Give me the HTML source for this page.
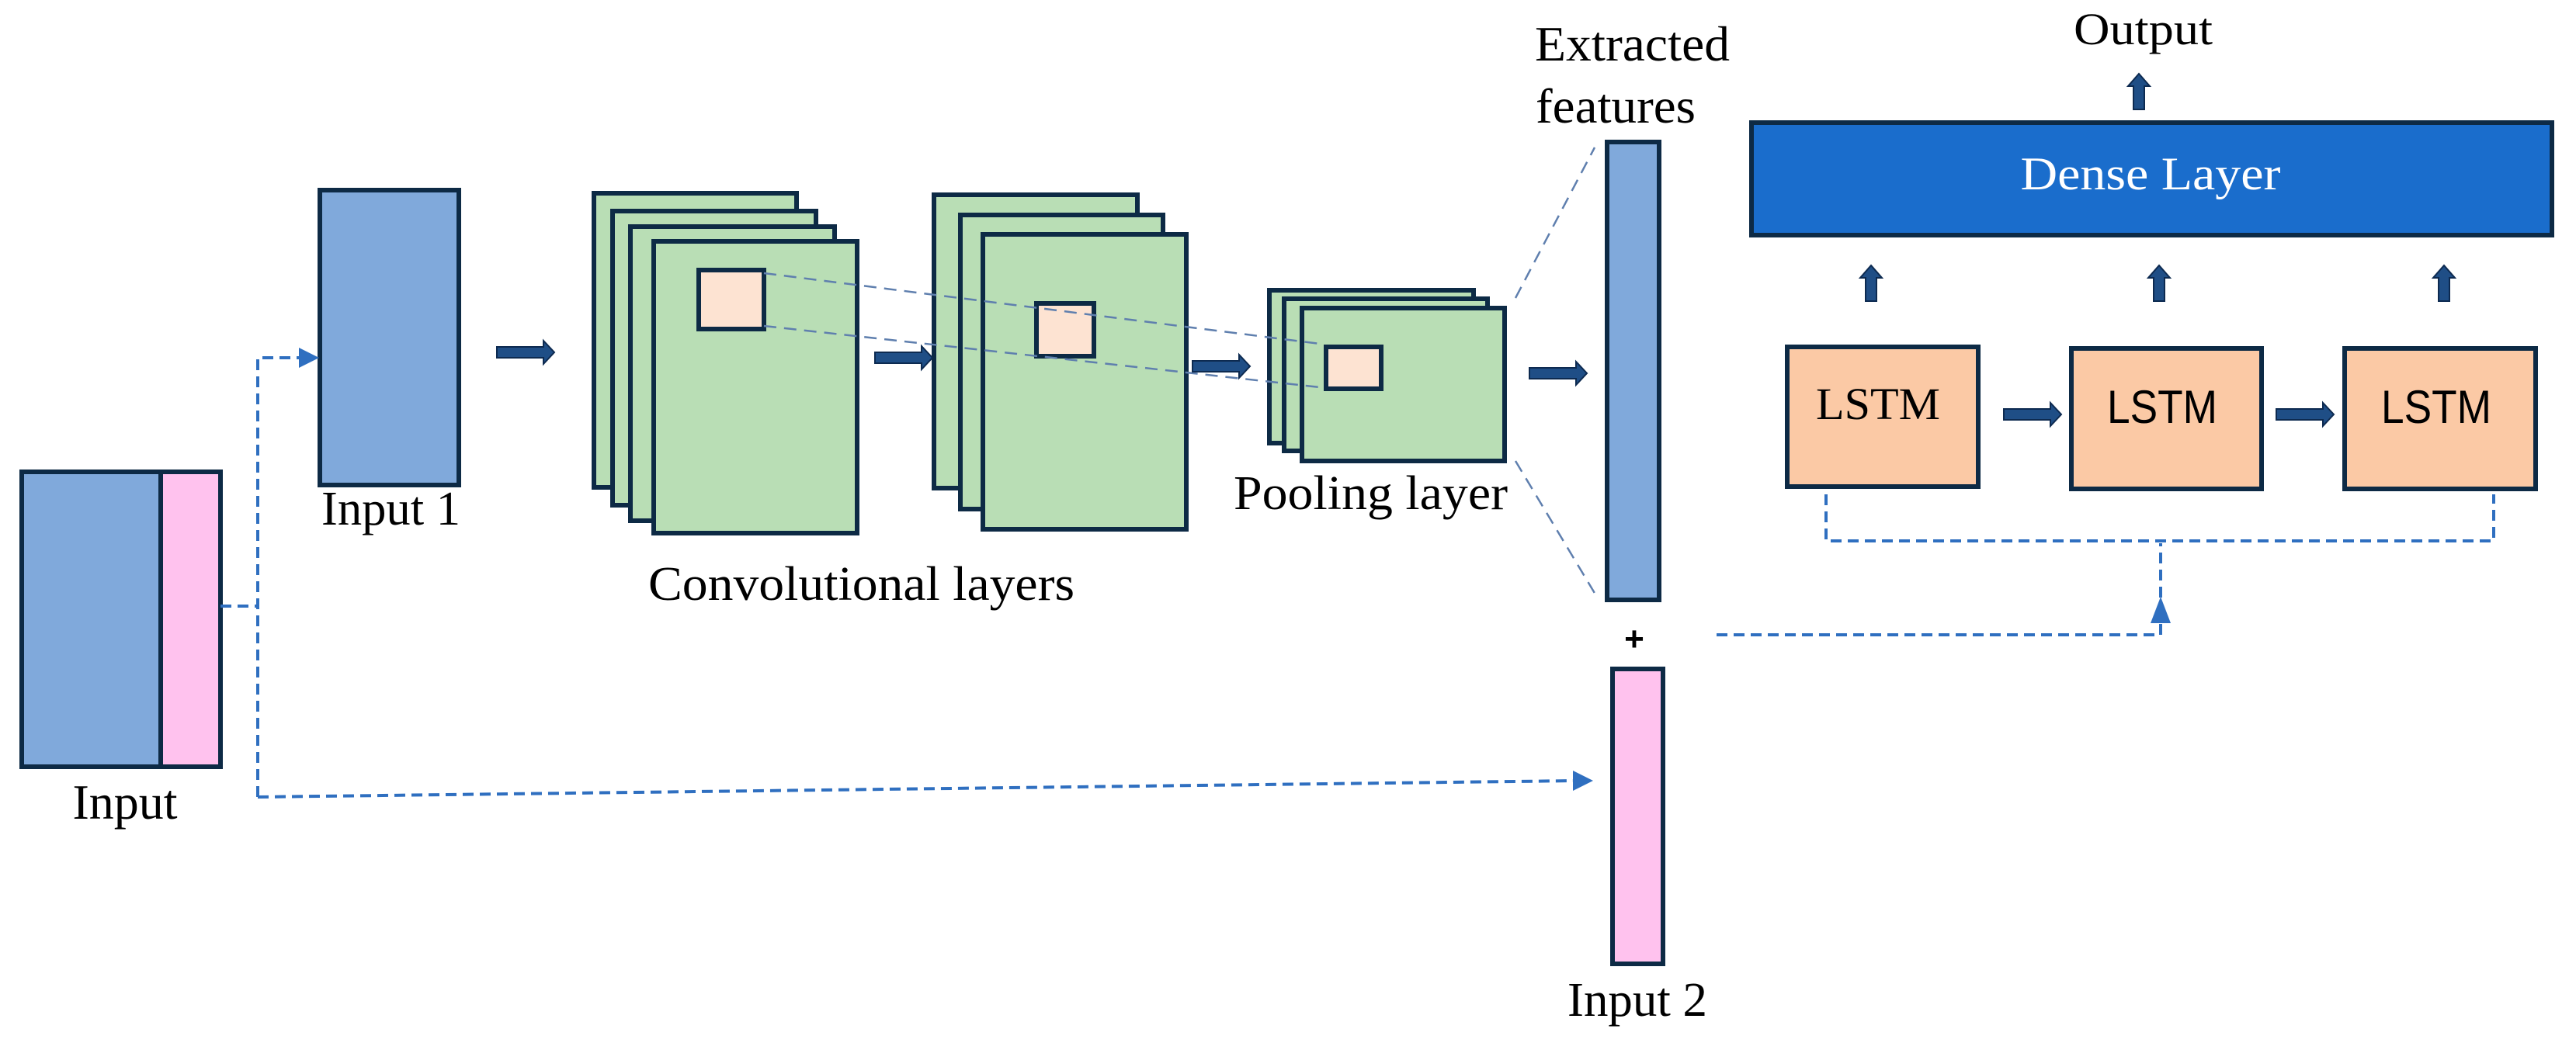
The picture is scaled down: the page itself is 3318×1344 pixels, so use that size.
<!DOCTYPE html>
<html><head><meta charset="utf-8"><style>
html,body{margin:0;padding:0;background:#fff;}
svg{display:block;}
.t{font-family:"Liberation Serif",serif;fill:#000;}
</style></head><body>
<svg width="3318" height="1344" viewBox="0 0 3318 1344" xmlns="http://www.w3.org/2000/svg">
<defs>
<g id="rarr"><path d="M0,-7 L60,-7 L60,-15 L74,0 L60,15 L60,7 L0,7 z" fill="#1f4e86" stroke="#0d2a50" stroke-width="2"/></g>
<g id="uarr"><path d="M-7,46 L-7,16 L-14,16 L0,0 L14,16 L7,16 L7,46 z" fill="#1f4e86" stroke="#0d2a50" stroke-width="2"/></g>
</defs>
<g stroke="#0d2a45" stroke-width="6">
<rect x="28" y="608" width="179" height="380" fill="#80a9db"/>
<rect x="207" y="608" width="77" height="380" fill="#ffc2ee"/>
<rect x="412" y="245" width="179" height="380" fill="#80a9db"/>
<rect x="765" y="249" width="261" height="379" fill="#b9deb5"/>
<rect x="789" y="272" width="262" height="379" fill="#b9deb5"/>
<rect x="812" y="292" width="263" height="379" fill="#b9deb5"/>
<rect x="842" y="311" width="262" height="376" fill="#b9deb5"/>
<rect x="900" y="348" width="84" height="76" fill="#fde3d2"/>
<rect x="1203" y="251" width="262" height="378" fill="#b9deb5"/>
<rect x="1237" y="277" width="261" height="379" fill="#b9deb5"/>
<rect x="1266" y="302" width="262" height="380" fill="#b9deb5"/>
<rect x="1335" y="391" width="74" height="68" fill="#fde3d2"/>
<rect x="1635" y="374" width="263" height="197" fill="#b9deb5"/>
<rect x="1654" y="385" width="262" height="196" fill="#b9deb5"/>
<rect x="1677" y="397" width="261" height="197" fill="#b9deb5"/>
<rect x="1708" y="447" width="71" height="54" fill="#fde3d2"/>
<rect x="2070" y="183" width="67" height="590" fill="#80a9db"/>
<rect x="2077" y="862" width="65" height="380" fill="#ffc2ee"/>
<rect x="2256" y="158" width="1031" height="145" fill="#1a6dcc"/>
<rect x="2302" y="447" width="246" height="180" fill="#fbc9a5"/>
<rect x="2668" y="449" width="245" height="181" fill="#fbc9a5"/>
<rect x="3020" y="449" width="246" height="181" fill="#fbc9a5"/>
</g>
<g stroke="#5f7fae" stroke-width="2.5" stroke-dasharray="16,10" fill="none">
<line x1="984" y1="352" x2="1700" y2="443"/>
<line x1="984" y1="420" x2="1700" y2="499"/>
<line x1="1952" y1="384" x2="2054" y2="190"/>
<line x1="1952" y1="594" x2="2058" y2="771"/>
</g>
<g stroke="#2f6fc0" stroke-width="4" stroke-dasharray="14,8" fill="none">
<polyline points="284,781 332,781"/>
<polyline points="332,1027 332,461 390,461"/>
<polyline points="332,1027 2030,1006"/>
<polyline points="2211,818 2783,818 2783,800"/>
<polyline points="2783,770 2783,700"/>
<polyline points="2352,637 2352,697 3212,697 3212,637"/>
</g>
<path d="M385,448 L411,461 L385,474 z" fill="#2f6fc0"/>
<path d="M2026,993 L2052,1006 L2026,1019 z" fill="#2f6fc0"/>
<path d="M2770,803 L2783,769 L2796,803 z" fill="#2f6fc0"/>
<use href="#rarr" x="640" y="454"/>
<use href="#rarr" x="1127" y="461"/>
<use href="#rarr" x="1536" y="472"/>
<use href="#rarr" x="1970" y="481"/>
<use href="#rarr" x="2581" y="534"/>
<use href="#rarr" x="2932" y="534"/>
<use href="#uarr" x="2755" y="95"/>
<use href="#uarr" x="2410" y="342"/>
<use href="#uarr" x="2781" y="342"/>
<use href="#uarr" x="3148" y="342"/>
<text class="t" x="161" y="1055" font-size="64" text-anchor="middle">Input</text>
<text class="t" x="414" y="676" font-size="62" textLength="179" lengthAdjust="spacingAndGlyphs">Input 1</text>
<text class="t" x="835" y="773" font-size="62" textLength="549" lengthAdjust="spacingAndGlyphs">Convolutional layers</text>
<text class="t" x="1589" y="656" font-size="62" textLength="353" lengthAdjust="spacingAndGlyphs">Pooling layer</text>
<text class="t" x="1977" y="78" font-size="64" textLength="251" lengthAdjust="spacingAndGlyphs">Extracted</text>
<text class="t" x="1978" y="158" font-size="64" textLength="206" lengthAdjust="spacingAndGlyphs">features</text>
<text x="2105" y="838" font-size="44" font-family="Liberation Sans,sans-serif" font-weight="bold" text-anchor="middle">+</text>
<text class="t" x="2019" y="1309" font-size="62" textLength="180" lengthAdjust="spacingAndGlyphs">Input 2</text>
<text class="t" x="2671" y="57" font-size="58" textLength="179" lengthAdjust="spacingAndGlyphs">Output</text>
<text x="2770" y="244" font-size="60" font-family="Liberation Serif,serif" fill="#fff" text-anchor="middle" textLength="335" lengthAdjust="spacingAndGlyphs">Dense Layer</text>
<text class="t" x="2419" y="540" font-size="58" text-anchor="middle" textLength="160" lengthAdjust="spacingAndGlyphs">LSTM</text>
<text x="2785" y="545" font-size="60" font-family="Liberation Sans,sans-serif" text-anchor="middle" textLength="142" lengthAdjust="spacingAndGlyphs">LSTM</text>
<text x="3138" y="545" font-size="60" font-family="Liberation Sans,sans-serif" text-anchor="middle" textLength="142" lengthAdjust="spacingAndGlyphs">LSTM</text>
</svg>
</body></html>
